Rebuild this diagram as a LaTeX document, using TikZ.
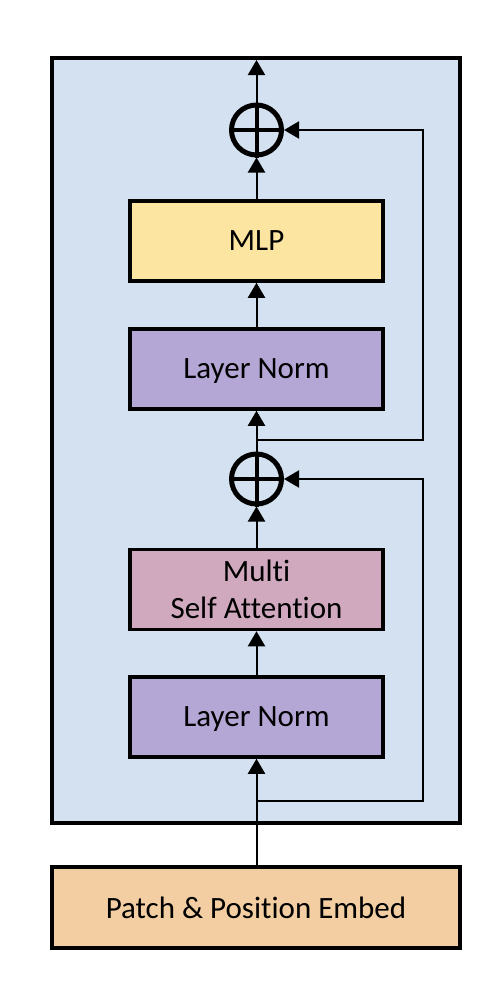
\documentclass[tikz,border=0pt]{standalone}
\usepackage{fontspec}
\setmainfont{Carlito}[Ligatures=NoCommon]
\usetikzlibrary{arrows.meta}
\definecolor{outerbg}{HTML}{D4E1F0}
\definecolor{lncol}{HTML}{B4A7D6}
\definecolor{msacol}{HTML}{D0A9BF}
\definecolor{mlpcol}{HTML}{FBE5A0}
\definecolor{patchcol}{HTML}{F2CEA2}
\tikzset{
  blk/.style={draw=black, line width=3.5pt, minimum width=253pt, minimum height=80pt, inner sep=0pt, align=center, font=\fontsize{31}{37}\selectfont},
  conn/.style={line width=2pt, -{Triangle[width=17pt,length=15pt]}},
  plusnode/.style={circle, draw=black, line width=5pt, minimum size=50pt, inner sep=0pt}
}
\begin{document}
\begin{tikzpicture}[x=1pt,y=-1pt]
\useasboundingbox (0,0) rectangle (496,988);
\draw[line width=3.5pt, fill=outerbg] (52,58) rectangle (460,823);
\node[blk, fill=patchcol, minimum width=408pt, minimum height=81pt] (patch) at (256,907.5) {Patch \& Position Embed};
\node[blk, fill=lncol, text depth=0pt] (ln1) at (256.5,717) {Layer Norm};
\node[blk, fill=msacol] (msa) at (256.5,589.5) {Multi\\Self Attention};
\node[plusnode] (p1) at (256.5,479) {};
\draw[line width=4pt] (p1.north) -- (p1.south) (p1.west) -- (p1.east);
\node[blk, fill=lncol, text depth=0pt] (ln2) at (256.5,369) {Layer Norm};
\node[blk, fill=mlpcol] (mlp) at (256.5,241) {MLP};
\node[plusnode] (p2) at (256.5,130) {};
\draw[line width=4pt] (p2.north) -- (p2.south) (p2.west) -- (p2.east);
\coordinate (top) at (256.5,60);
\coordinate (s1) at (256.5,801);
\coordinate (r1) at (423,801);
\coordinate (s2) at (256.5,440);
\coordinate (r2) at (423,440);
\draw[conn] (patch.north -| ln1.south) -- (ln1.south);
\draw[conn] (ln1.north) -- (msa.south);
\draw[conn] (msa.north) -- (p1.south);
\draw[conn] (p1.north) -- (ln2.south);
\draw[conn] (ln2.north) -- (mlp.south);
\draw[conn] (mlp.north) -- (p2.south);
\draw[conn] (p2.north) -- (top);
\draw[conn] (s1) -- (r1) |- (p1.east);
\draw[conn] (s2) -- (r2) |- (p2.east);
\end{tikzpicture}
\end{document}
